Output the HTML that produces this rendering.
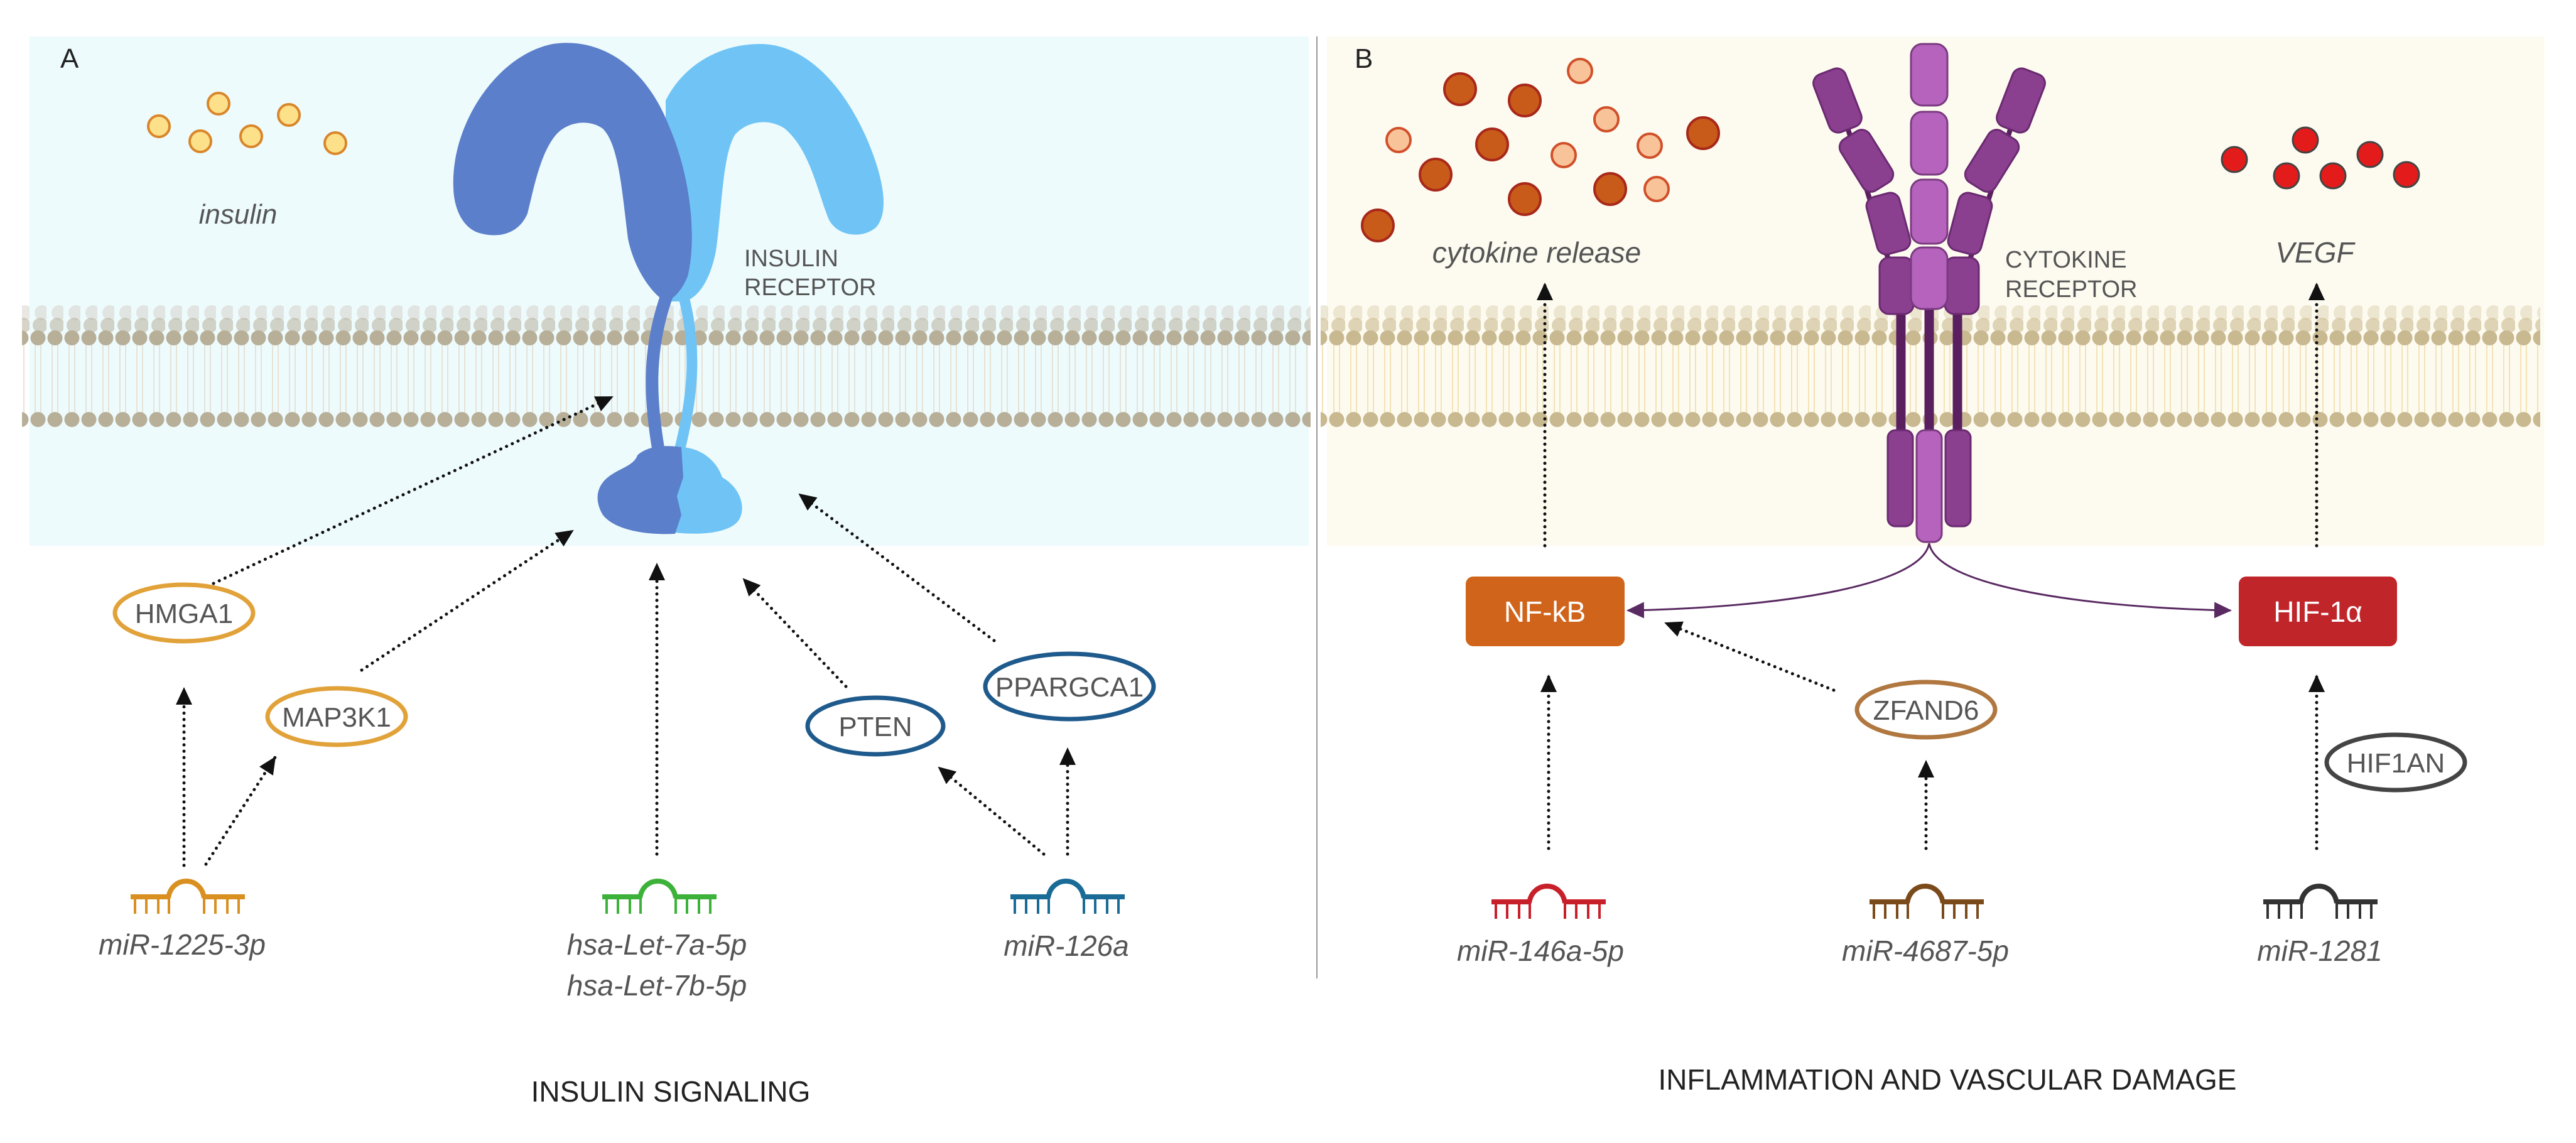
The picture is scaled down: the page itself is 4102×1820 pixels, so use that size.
<!DOCTYPE html>
<html><head><meta charset="utf-8"><style>
html,body{margin:0;padding:0;background:#fff;}
svg{display:block;}
text{font-family:"Liberation Sans",sans-serif;fill:#555;}
.it{font-style:italic;}
</style></head><body>
<svg width="4102" height="1820" viewBox="0 0 4102 1820" xmlns="http://www.w3.org/2000/svg">
<defs>
<marker id="ah" markerUnits="userSpaceOnUse" markerWidth="30" markerHeight="26" refX="26" refY="13" orient="auto"><path d="M0,0 L28,13 L0,26 Z" fill="#111"/></marker>
<marker id="ap" markerUnits="userSpaceOnUse" markerWidth="30" markerHeight="26" refX="26" refY="13" orient="auto"><path d="M0,0 L28,13 L0,26 Z" fill="#5a2a62"/></marker>
<pattern id="memA" x="47" y="480" width="27" height="205" patternUnits="userSpaceOnUse">
<line x1="9" y1="68" x2="9" y2="178" stroke="#e6e2d6" stroke-width="2"/><line x1="18" y1="68" x2="18" y2="178" stroke="#e6e2d6" stroke-width="2"/>
<circle cx="20" cy="18" r="12" fill="#cfcbc0" opacity="0.45"/>
<circle cx="17" cy="38" r="12" fill="#bdb6a4" opacity="0.6"/>
<circle cx="13.5" cy="58" r="12" fill="#b8af99"/>
<circle cx="13.5" cy="188" r="12" fill="#b8af99"/>
</pattern>
<pattern id="memB" x="2115" y="480" width="27" height="205" patternUnits="userSpaceOnUse">
<line x1="9" y1="68" x2="9" y2="178" stroke="#f3e2b6" stroke-width="2"/><line x1="18" y1="68" x2="18" y2="178" stroke="#f3e2b6" stroke-width="2"/>
<circle cx="20" cy="18" r="12" fill="#dcd0ae" opacity="0.5"/>
<circle cx="17" cy="38" r="12" fill="#d2c49c" opacity="0.7"/>
<circle cx="13.5" cy="58" r="12" fill="#c9b991"/>
<circle cx="13.5" cy="188" r="12" fill="#c9b991"/>
</pattern>
<g id="mir">
<line x1="-91" y1="0" x2="-30" y2="0" stroke-width="8"/>
<path d="M-31,2 C-26,-34 21,-34 26,2" fill="none" stroke-width="8"/>
<line x1="25" y1="0" x2="91" y2="0" stroke-width="8"/>
<g stroke-width="4"><line x1="-84" y1="0" x2="-84" y2="27"/><line x1="-66" y1="0" x2="-66" y2="27"/><line x1="-47" y1="0" x2="-47" y2="27"/><line x1="-30" y1="0" x2="-30" y2="27"/><line x1="26" y1="0" x2="26" y2="27"/><line x1="44" y1="0" x2="44" y2="27"/><line x1="63" y1="0" x2="63" y2="27"/><line x1="81" y1="0" x2="81" y2="27"/></g>
</g>
</defs>

<rect x="47" y="58" width="2037" height="811" fill="#eefbfd"/>
<rect x="2113" y="58" width="1939" height="811" fill="#fdfbf0"/>
<line x1="2097" y1="58" x2="2097" y2="1558" stroke="#999" stroke-width="2"/>

<rect x="35" y="480" width="2052" height="205" fill="url(#memA)"/>
<rect x="2103" y="480" width="1942" height="205" fill="url(#memB)"/>

<text x="96" y="108" font-size="44" style="fill:#222">A</text>
<text x="2157" y="108" font-size="44" style="fill:#222">B</text>

<g fill="#fde08a" stroke="#d9862a" stroke-width="4">
<circle cx="253" cy="201" r="17"/><circle cx="348" cy="165" r="17"/><circle cx="319" cy="225" r="17"/><circle cx="400" cy="217" r="17"/><circle cx="460" cy="183" r="17"/><circle cx="534" cy="228" r="17"/>
</g>
<text x="379" y="356" font-size="44" class="it" text-anchor="middle">insulin</text>

<path d="M1060,160 C1090,100 1150,70 1210,70 C1280,70 1340,130 1380,220 C1410,290 1415,340 1395,362 C1375,380 1335,378 1320,350 C1300,300 1290,240 1250,205 C1225,188 1190,192 1170,215 C1150,250 1150,330 1140,400 C1130,450 1110,475 1090,480 L1060,480 Z" fill="#70c4f5"/>
<path d="M722,300 C717,200 790,88 880,70 C960,58 1030,110 1065,200 C1100,280 1110,380 1095,440 C1085,465 1070,478 1060,480 C1040,470 1010,430 1000,380 C990,300 985,230 960,205 C940,190 905,192 885,215 C860,245 850,300 840,340 C825,375 790,380 760,370 C735,360 723,330 722,300 Z" fill="#5b7fca"/>
<path d="M1088,470 C1112,560 1102,640 1080,725" fill="none" stroke="#70c4f5" stroke-width="17"/>
<path d="M1062,470 C1030,560 1035,640 1050,725" fill="none" stroke="#5b7fca" stroke-width="20"/>
<path d="M1070,712 C1110,708 1140,730 1150,760 C1185,780 1190,820 1170,835 C1150,850 1110,852 1075,848 Z" fill="#70c4f5"/>
<path d="M1085,712 L1088,760 L1078,790 L1085,820 L1075,850 C1030,852 980,845 960,820 C945,795 950,770 975,755 C990,745 1010,740 1015,725 C1030,710 1060,708 1085,712 Z" fill="#5b7fca"/>
<text x="1185" y="424" font-size="38">INSULIN</text>
<text x="1185" y="470" font-size="38">RECEPTOR</text>

<g stroke="#111" stroke-width="5" stroke-dasharray="0.1 10" stroke-linecap="round" fill="none" marker-end="url(#ah)">
<line x1="340" y1="929" x2="975" y2="632"/>
<line x1="576" y1="1067" x2="912" y2="845"/>
<line x1="1046" y1="1360" x2="1046" y2="898"/>
<line x1="1347" y1="1093" x2="1184" y2="922"/>
<line x1="1583" y1="1020" x2="1273" y2="787"/>
<line x1="293" y1="1378" x2="293" y2="1096"/>
<line x1="328" y1="1376" x2="438" y2="1206"/>
<line x1="1662" y1="1360" x2="1495" y2="1222"/>
<line x1="1700" y1="1360" x2="1700" y2="1192"/>
</g>

<g fill="#fff" stroke-width="7">
<ellipse cx="293" cy="976" rx="110" ry="45" stroke="#e2a23a"/>
<ellipse cx="536" cy="1141" rx="110" ry="45" stroke="#e2a23a"/>
<ellipse cx="1394" cy="1156" rx="108" ry="45" stroke="#1f5a8c"/>
<ellipse cx="1703" cy="1093" rx="134" ry="52" stroke="#1f5a8c"/>
</g>
<g font-size="44" text-anchor="middle">
<text x="293" y="992">HMGA1</text>
<text x="536" y="1157">MAP3K1</text>
<text x="1394" y="1172">PTEN</text>
<text x="1703" y="1109">PPARGCA1</text>
</g>

<use href="#mir" x="299" y="1428" stroke="#d99020"/>
<use href="#mir" x="1050" y="1428" stroke="#3db23a"/>
<use href="#mir" x="1700" y="1428" stroke="#1a6b96"/>
<g font-size="46" text-anchor="middle">
<text x="290" y="1520" class="it">miR-1225-3p</text>
<text x="1046" y="1520" class="it">hsa-Let-7a-5p</text>
<text x="1046" y="1585" class="it">hsa-Let-7b-5p</text>
<text x="1698" y="1522" class="it">miR-126a</text>
</g>
<text x="1068" y="1754" font-size="46" text-anchor="middle" style="fill:#222">INSULIN SIGNALING</text>

<g fill="#c85a1a" stroke="#a8281a" stroke-width="4">
<circle cx="2325" cy="142" r="25"/><circle cx="2428" cy="160" r="25"/><circle cx="2376" cy="230" r="25"/><circle cx="2286" cy="278" r="25"/><circle cx="2428" cy="317" r="25"/><circle cx="2194" cy="359" r="25"/><circle cx="2712" cy="212" r="25"/><circle cx="2564" cy="301" r="25"/>
</g>
<g fill="#f9c39a" stroke="#d0502a" stroke-width="4">
<circle cx="2516" cy="113" r="19"/><circle cx="2558" cy="190" r="19"/><circle cx="2227" cy="223" r="19"/><circle cx="2490" cy="247" r="19"/><circle cx="2627" cy="232" r="19"/><circle cx="2638" cy="301" r="19"/>
</g>
<text x="2447" y="418" font-size="46" class="it" text-anchor="middle">cytokine release</text>
<g fill="#e31b1b" stroke="#444" stroke-width="3">
<circle cx="3558" cy="254" r="20"/><circle cx="3671" cy="223" r="20"/><circle cx="3641" cy="280" r="20"/><circle cx="3715" cy="280" r="20"/><circle cx="3774" cy="246" r="20"/><circle cx="3832" cy="278" r="20"/>
</g>
<text x="3686" y="418" font-size="46" class="it" text-anchor="middle">VEGF</text>

<g stroke="#5a1f5e">
<line x1="3027" y1="480" x2="3027" y2="700" stroke-width="15"/>
<line x1="3117" y1="480" x2="3117" y2="700" stroke-width="15"/>
<line x1="3072" y1="480" x2="3072" y2="700" stroke-width="15"/>
<line x1="2928" y1="158" x2="3020" y2="455" stroke-width="8"/>
<line x1="3216" y1="158" x2="3124" y2="455" stroke-width="8"/>
</g>
<g fill="#8a3f8f" stroke="#6a2a70" stroke-width="3">
<rect x="-27" y="-49" width="54" height="98" rx="15" transform="translate(2926,160) rotate(-21)"/>
<rect x="-27" y="-48" width="54" height="96" rx="15" transform="translate(2972,256) rotate(-32)"/>
<rect x="-27" y="-47" width="54" height="94" rx="15" transform="translate(3007,356) rotate(-15)"/>
<rect x="-27" y="-49" width="54" height="98" rx="15" transform="translate(3218,160) rotate(21)"/>
<rect x="-27" y="-48" width="54" height="96" rx="15" transform="translate(3172,256) rotate(32)"/>
<rect x="-27" y="-47" width="54" height="94" rx="15" transform="translate(3137,356) rotate(15)"/>
<rect x="2993" y="410" width="54" height="90" rx="15"/>
<rect x="3097" y="410" width="54" height="90" rx="15"/>
<rect x="3006" y="685" width="40" height="153" rx="12"/>
<rect x="3098" y="685" width="40" height="153" rx="12"/>
</g>
<g fill="#b563bd" stroke="#7a3a80" stroke-width="3">
<rect x="3043" y="70" width="58" height="98" rx="18"/>
<rect x="3043" y="178" width="58" height="100" rx="18"/>
<rect x="3043" y="286" width="58" height="102" rx="18"/>
<rect x="3043" y="394" width="58" height="98" rx="18"/>
<rect x="3052" y="685" width="40" height="178" rx="13"/>
</g>
<text x="3193" y="426" font-size="38">CYTOKINE</text>
<text x="3193" y="473" font-size="38">RECEPTOR</text>

<g fill="none" stroke="#5a2a62" stroke-width="3" marker-end="url(#ap)">
<path d="M3072,865 C3060,935 2820,968 2592,972"/>
<path d="M3072,865 C3084,935 3330,968 3552,972"/>
</g>

<g stroke="#111" stroke-width="5" stroke-dasharray="0.1 10" stroke-linecap="round" fill="none" marker-end="url(#ah)">
<line x1="2460" y1="869" x2="2460" y2="452"/>
<line x1="3689" y1="869" x2="3689" y2="452"/>
<line x1="2466" y1="1351" x2="2466" y2="1076"/>
<line x1="2920" y1="1099" x2="2652" y2="992"/>
<line x1="3067" y1="1351" x2="3067" y2="1212"/>
<line x1="3689" y1="1351" x2="3689" y2="1076"/>
</g>

<rect x="2334" y="918" width="253" height="111" rx="12" fill="#d0641b"/>
<rect x="3565" y="918" width="252" height="111" rx="12" fill="#c0252a"/>
<text x="2460" y="990" font-size="46" text-anchor="middle" style="fill:#fff">NF-kB</text>
<text x="3691" y="990" font-size="46" text-anchor="middle" style="fill:#fff">HIF-1α</text>

<ellipse cx="3067" cy="1130" rx="110" ry="44" fill="#fff" stroke="#b07840" stroke-width="7"/>
<ellipse cx="3815" cy="1214" rx="110" ry="44" fill="#fff" stroke="#444" stroke-width="7"/>
<text x="3067" y="1146" font-size="44" text-anchor="middle">ZFAND6</text>
<text x="3815" y="1230" font-size="44" text-anchor="middle">HIF1AN</text>

<use href="#mir" x="2466" y="1436" stroke="#c8202a"/>
<use href="#mir" x="3068" y="1436" stroke="#7a4a1a"/>
<use href="#mir" x="3695" y="1436" stroke="#333"/>
<g font-size="46" text-anchor="middle">
<text x="2453" y="1530" class="it">miR-146a-5p</text>
<text x="3066" y="1530" class="it">miR-4687-5p</text>
<text x="3694" y="1530" class="it">miR-1281</text>
</g>
<text x="3101" y="1735" font-size="46" text-anchor="middle" style="fill:#222">INFLAMMATION AND VASCULAR DAMAGE</text>
</svg>
</body></html>
